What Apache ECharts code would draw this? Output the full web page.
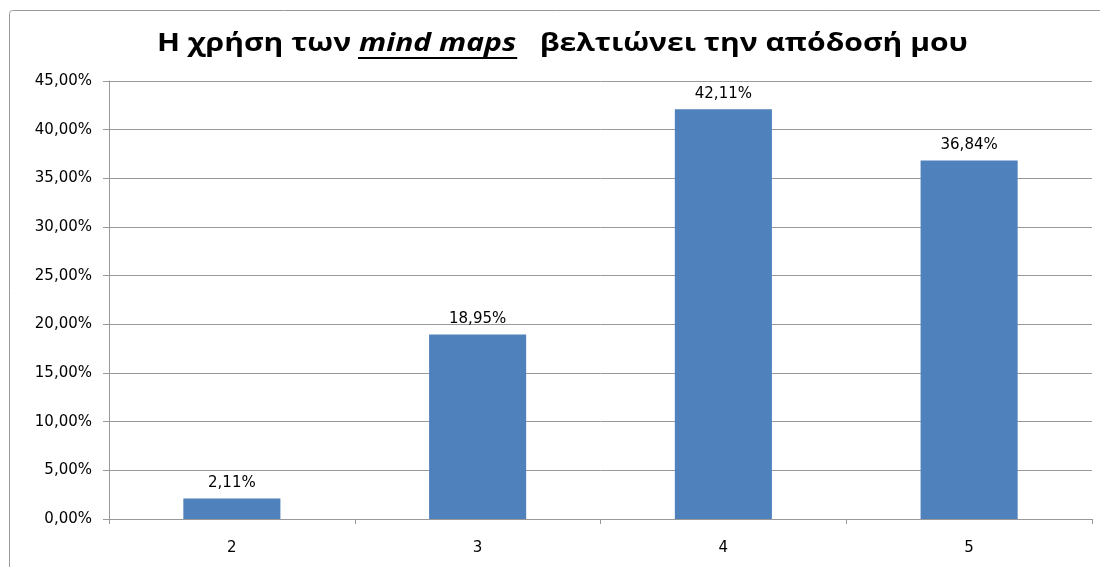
<!DOCTYPE html>
<html>
<head>
<meta charset="utf-8">
<script src="https://cdn.jsdelivr.net/npm/echarts@6/dist/echarts.min.js"></script>
<style>
  html, body { margin: 0; padding: 0; background: #fff; }
  #chart { width: 1100px; height: 567px; }
</style>
</head>
<body>
<div id="chart"></div>
<script>
// Survey answers (scale 2–5) and the share of respondents, in percent
const categories = ['2', '3', '4', '5'];
const shares = [2.11, 18.95, 42.11, 36.84];
const yTicks = { min: 0, max: 45, interval: 5 };

const titleParts = ['Η χρήση των ', 'mind maps', '   βελτιώνει την απόδοσή μου'];

const pct = v => v.toFixed(2).replace('.', ',') + '%';

const chart = echarts.init(document.getElementById('chart'), null, { renderer: 'canvas' });

// Title pieces laid out left to right; the middle piece is italic and underlined.
// The title is set in a wide face: glyphs are stretched horizontally to span 157..968.
const titleFont = 'Open Sans';
const titleSize = 25;
const titleLeft = 157;
const titleRight = 968;
const baseline = 52;
const ctx = document.createElement('canvas').getContext('2d');
const fontOf = italic => (italic ? 'italic ' : '') + 'bold ' + titleSize + 'px "' + titleFont + '"';
const widths = titleParts.map((t, i) => { ctx.font = fontOf(i === 1); return ctx.measureText(t).width; });
const stretch = (titleRight - titleLeft) / widths.reduce((a, b) => a + b, 0);
const titleGraphics = [];
let x = titleLeft;
titleParts.forEach((t, i) => {
  titleGraphics.push({
    type: 'text', x: x, y: baseline - titleSize / 3, scaleX: stretch, z: 10,
    style: { text: t, font: fontOf(i === 1), fill: '#000', textAlign: 'left', textVerticalAlign: 'middle', verticalAlign: 'middle' }
  });
  if (i === 1) {
    titleGraphics.push({
      type: 'rect', z: 10,
      shape: { x: x - 1, y: baseline + 5, width: widths[i] * stretch + 2, height: 2 },
      style: { fill: '#000' }
    });
  }
  x += widths[i] * stretch;
});

const lineGray = '#999';

chart.setOption({
  animation: false,
  backgroundColor: '#fff',
  textStyle: { fontFamily: 'DejaVu Sans' },
  graphic: [
    // chart frame
    { type: 'rect', z: 0, shape: { x: 9.5, y: 10.5, width: 1200, height: 700, r: 3 },
      style: { fill: 'none', stroke: '#9a9a9a', lineWidth: 1 } }
  ].concat(titleGraphics),
  grid: { left: 109, right: 8, top: 81, bottom: 48 },
  xAxis: {
    type: 'category',
    data: categories,
    boundaryGap: true,
    axisLine: { lineStyle: { color: lineGray } },
    axisTick: { show: true, length: 5, lineStyle: { color: lineGray } },
    axisLabel: { color: '#000', fontSize: 15, margin: 22 }
  },
  yAxis: {
    type: 'value',
    min: yTicks.min, max: yTicks.max, interval: yTicks.interval,
    axisLine: { show: true, lineStyle: { color: lineGray } },
    axisTick: { show: true, length: 6, lineStyle: { color: lineGray } },
    splitLine: { lineStyle: { color: lineGray } },
    axisLabel: { color: '#000', fontSize: 15, margin: 17, formatter: pct }
  },
  series: [{
    type: 'bar',
    data: shares,
    barWidth: '39.5%',
    itemStyle: { color: '#4F81BD' },
    label: { show: true, position: 'top', distance: 8, color: '#000', fontSize: 15, formatter: p => pct(p.value) }
  }]
});
</script>
</body>
</html>
